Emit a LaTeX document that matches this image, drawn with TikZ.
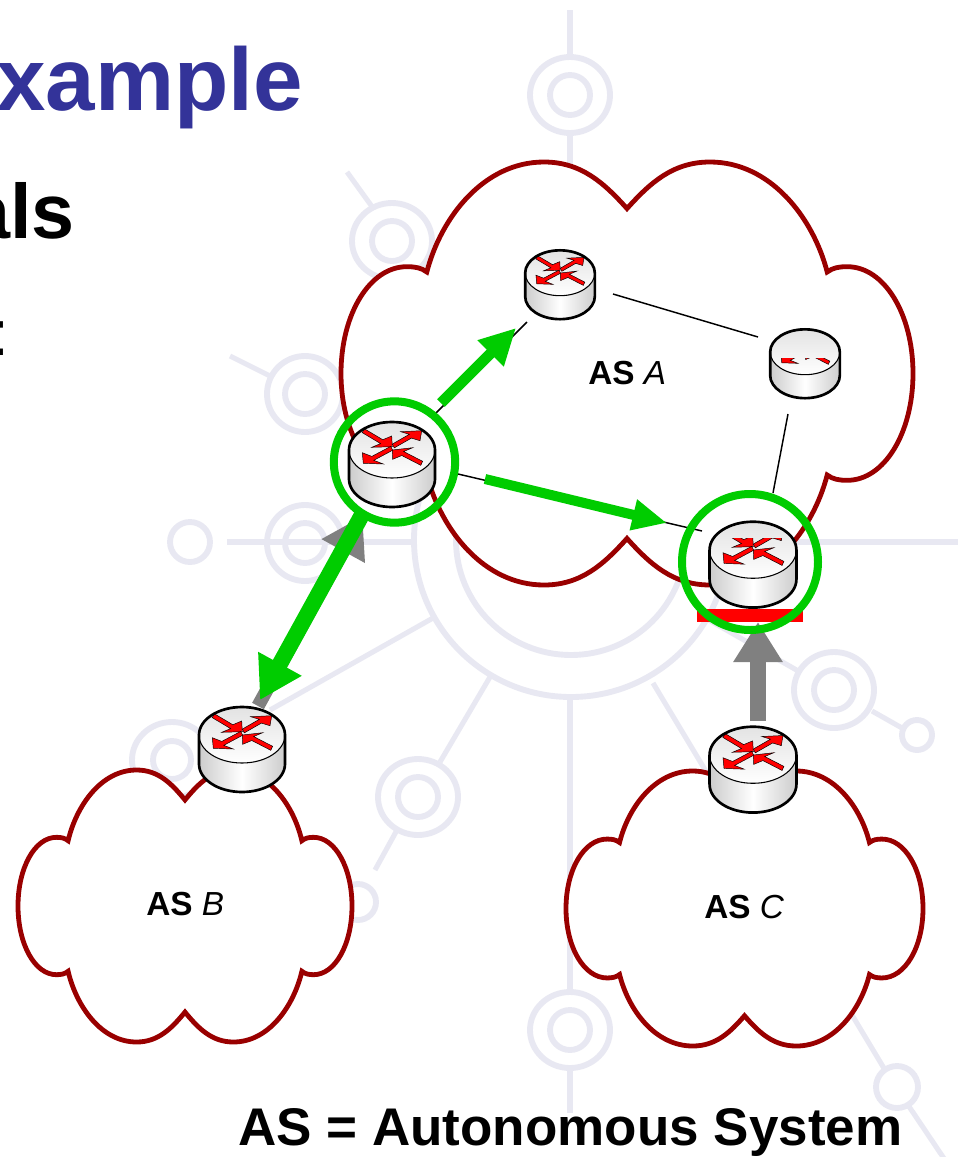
\documentclass[tikz,border=0pt]{standalone}
\usepackage{fontspec}
\setmainfont{Liberation Sans}
\usetikzlibrary{arrows.meta}
\definecolor{wm}{HTML}{E8E8F2}
\definecolor{cloudred}{HTML}{990000}
\definecolor{titleblue}{HTML}{333399}
\definecolor{okgreen}{HTML}{00CC00}
\definecolor{gray50}{HTML}{808080}
\tikzset{
  wmline/.style={draw=wm,line width=3.8pt},
  wmring/.style={draw=wm,line width=4.4pt},
  cloudline/.style={draw=cloudred,fill=white,line width=3.6pt,line join=miter},
  thinlink/.style={draw=black,line width=1.1pt},
  greyarrow/.style={draw=gray50,line width=12pt,-{Triangle[length=30pt,width=35pt]}},
  greyboth/.style={draw=gray50,line width=10pt,-{Triangle[length=30pt,width=35pt]}},
  greenbig/.style={draw=okgreen,line width=12pt,-{Triangle[length=31pt,width=35pt]}},
  greenup/.style={draw=okgreen,line width=8pt,-{Triangle[length=27pt,width=26pt]}},
  greenright/.style={draw=okgreen,line width=7.5pt,-{Triangle[length=26pt,width=22pt]}},
  gring/.style={draw=okgreen,line width=6pt},
  aslabel/.style={font=\fontsize{25}{29}\selectfont,anchor=base west,inner sep=0pt},
  rarrow/.style={fill=red,draw=black,line width=.35pt,line join=miter},
  port/.style={coordinate}
}
\newcommand{\wmtarget}[5]{%
  \draw[wmring] (#1,#2) ellipse [x radius=#3,y radius=#4];
  \draw[wmring] (#1,#2) ellipse [x radius=#5,y radius=#5];
}
\newcommand{\cloudshape}[5]{%
  \begin{scope}[shift={(#2,#3)},xscale=#4,yscale=#5]
  \path[cloudline] (0,-.78)
    .. controls (.08,-.90) and (.16,-1) .. (.29,-1)
    .. controls (.50,-1) and (.65,-.74) .. (.70,-.48)
    .. controls (.72,-.50) and (.74,-.505) .. (.77,-.505)
    .. controls (.90,-.505) and (1,-.28) .. (1,0)
    .. controls (1,.28) and (.90,.505) .. (.77,.505)
    .. controls (.74,.505) and (.72,.50) .. (.70,.48)
    .. controls (.65,.74) and (.50,1) .. (.29,1)
    .. controls (.16,1) and (.08,.90) .. (0,.78)
    .. controls (-.08,.90) and (-.16,1) .. (-.29,1)
    .. controls (-.50,1) and (-.65,.74) .. (-.70,.48)
    .. controls (-.72,.50) and (-.74,.505) .. (-.77,.505)
    .. controls (-.90,.505) and (-1,.28) .. (-1,0)
    .. controls (-1,-.28) and (-.90,-.505) .. (-.77,-.505)
    .. controls (-.74,-.505) and (-.72,-.50) .. (-.70,-.48)
    .. controls (-.65,-.74) and (-.50,-1) .. (-.29,-1)
    .. controls (-.16,-1) and (-.08,-.90) .. (0,-.78) -- cycle;
  \node[coordinate] (#1) at (0,0) {};
  \end{scope}
}
\newcommand{\rtr}[6]{%
  \begin{scope}[shift={(#2,#3)},scale=#4]
  \node[coordinate] (#1) at (0,14) {};
  \shade[left color=gray!40,right color=gray!40,middle color=white]
    (-43,0) -- (-43,29) .. controls (-43,44.46) and (-23.75,57) .. (0,57)
    .. controls (23.75,57) and (43,44.46) .. (43,29) -- (43,0) -- cycle;
  \shade[top color=gray!22,bottom color=white] (0,0) ellipse [x radius=43,y radius=28];
  \draw[black,line width=.8pt] (0,0) ellipse [x radius=43,y radius=28];
  \begin{scope}
  \clip (-43,#5) rectangle (43,#6);
  \path[rarrow] (-29.8,-17.4) -- (-11.4,-6.4) -- (-20.3,-2.7) -- (.3,-3.3) -- (-.3,-14) -- (-9.2,-10.3) -- (-27.6,-21.2) -- cycle;
  \path[rarrow] (2.3,-2.1) -- (19.4,-11.9) -- (28,-9.3) -- (29.7,-19.3) -- (8.7,-18.3) -- (17.3,-15.7) -- (.3,-5.9) -- cycle;
  \path[rarrow] (.7,.2) -- (-18.2,10.3) -- (-8.7,14) -- (-28.7,13.3) -- (-29.7,2.7) -- (-20.2,6.4) -- (-1.3,-3.6) -- cycle;
  \path[rarrow] (30.6,11.3) -- (11.6,1.5) -- (20.7,-2.3) -- (.3,0) -- (.7,9.3) -- (9.8,5.5) -- (28.8,15.3) -- cycle;
  \end{scope}
  \draw[black,line width=2pt,line join=round]
    (-43,0) .. controls (-43,-15.46) and (-23.75,-28) .. (0,-28)
    .. controls (23.75,-28) and (43,-15.46) .. (43,0) -- (43,29)
    .. controls (43,44.46) and (23.75,57) .. (0,57)
    .. controls (-23.75,57) and (-43,44.46) .. (-43,29) -- cycle;
  \end{scope}
}
\begin{document}
\begin{tikzpicture}[x=.75pt,y=-.75pt]
\useasboundingbox (0,0) rectangle (958,1157);
\clip (0,0) rectangle (958,1157);
\fill[white] (0,0) rectangle (958,1157);

% watermark
\draw[wmring] (571,540) circle [radius=115];
\draw[wmring] (571,540) circle [radius=157];
\wmtarget{570}{95}{40}{38}{20}
\draw[wmline] (570,10) -- (570,57);
\draw[wmline] (570,133) -- (570,170);
\wmtarget{392}{241}{40}{38}{20}
\draw[wmline] (347,172) -- (373,208);
\wmtarget{305}{394}{38}{38}{20}
\draw[wmline] (230,356) -- (270,376);
\wmtarget{305}{543}{38}{38}{20}
\draw[wmring] (190,542) circle [radius=20];
\draw[wmline] (227,542) -- (414,542);
\wmtarget{418}{797}{40}{38}{20}
\draw[wmline] (440,762) -- (490,677);
\draw[wmline] (397,830) -- (375,870);
\draw[wmring] (358,902) circle [radius=18];
\wmtarget{172}{760}{40}{38}{19}
\draw[wmline] (433,618) -- (270,710);
\wmtarget{834}{690}{40}{38}{20}
\draw[wmring] (917,735) circle [radius=15];
\draw[wmline] (872,711) -- (902,728);
\draw[wmline] (700,615) -- (800,672);
\draw[wmline] (728,542) -- (958,542);
\draw[wmline] (570,698) -- (570,992);
\wmtarget{570}{1030}{40}{38}{20}
\draw[wmline] (570,1068) -- (570,1113);
\draw[wmline] (653,683) -- (885,1070);
\draw[wmring] (897,1087) circle [radius=21];
\draw[wmline] (908,1105) -- (945,1160);

% clouds
\cloudshape{cloudA}{627}{373.5}{286}{211.5}
\cloudshape{cloudB}{185}{906}{167}{136}
\cloudshape{cloudC}{744.5}{908.5}{178.5}{137.5}

% title texts
\node[anchor=base east,inner sep=0pt,text=titleblue,font=\fontsize{66.7}{70}\selectfont\bfseries] (title) at (303,110) {xample};
\node[anchor=base east,inner sep=0pt,font=\fontsize{58}{60}\selectfont\bfseries] (goals) at (75,238) {als};
\node[anchor=base east,inner sep=0pt,font=\fontsize{48}{50}\selectfont] (colon) at (10,355) {:};

% labels
\node[aslabel] (lblA) at (588,384) {\textbf{AS} \textit{A}};
\node[aslabel] (lblB) at (146,915) {\textbf{AS} \textit{B}};
\node[aslabel] (lblC) at (704,918) {\textbf{AS} \textit{C}};
\node[anchor=base west,inner sep=0pt,font=\fontsize{39.75}{44}\selectfont\bfseries] (legend) at (238,1145) {AS = Autonomous System};

% ports of the routers
\node[port] (bigNE) at (436,413) {};
\node[port] (bigE) at (458,474) {};
\node[port] (topSW) at (527,322) {};
\node[port] (topE) at (613,294) {};
\node[port] (rightW) at (758,337) {};
\node[port] (rightS) at (788,414) {};
\node[port] (lowN) at (773,493) {};
\node[port] (lowW) at (702,531) {};

% thin links
\draw[thinlink] (bigNE) -- (topSW);
\draw[thinlink] (bigE) -- (lowW);
\draw[thinlink] (topE) -- (rightW);
\draw[thinlink] (rightS) -- (lowN);

% red bar
\fill[red] (697,609) rectangle (803,622);

% routers
\rtr{rBig}{392}{450}{1}{-40}{40}
\rtr{rTop}{560}{273}{.81}{-40}{40}
\rtr{rRight}{805}{352}{.81}{8.5}{40}
\rtr{rLow}{753}{550}{1.01}{-11}{40}
\rtr{rB}{242}{735}{1}{-40}{40}
\rtr{rC}{753}{755}{1.01}{-40}{40}

% grey route arrows
\node[port] (cTop) at (758,622) {};
\node[port] (cTail) at (758,721) {};
\node[port] (bTail) at (258,706) {};
\node[port] (bigTip) at (362.5,516) {};
\draw[greyarrow] (cTail) -- (cTop);
\draw[greyboth] (bTail) -- (bigTip);

% green rings
\node[circle,gring,minimum size=91pt,inner sep=0pt] (ringBig) at (394.5,462) {};
\node[circle,gring,minimum size=102pt,inner sep=0pt] (ringLow) at (750,562) {};

% green arrows
\node[port] (gTail1) at (363,513) {};
\node[port] (gTip1) at (260,700) {};
\node[port] (gTail2) at (441,403) {};
\node[port] (gTip2) at (516,328) {};
\node[port] (gTail3) at (485,479) {};
\node[port] (gTip3) at (667,523) {};
\draw[greenbig] (gTail1) -- (gTip1);
\draw[greenup] (gTail2) -- (gTip2);
\draw[greenright] (gTail3) -- (gTip3);
\end{tikzpicture}
\end{document}
